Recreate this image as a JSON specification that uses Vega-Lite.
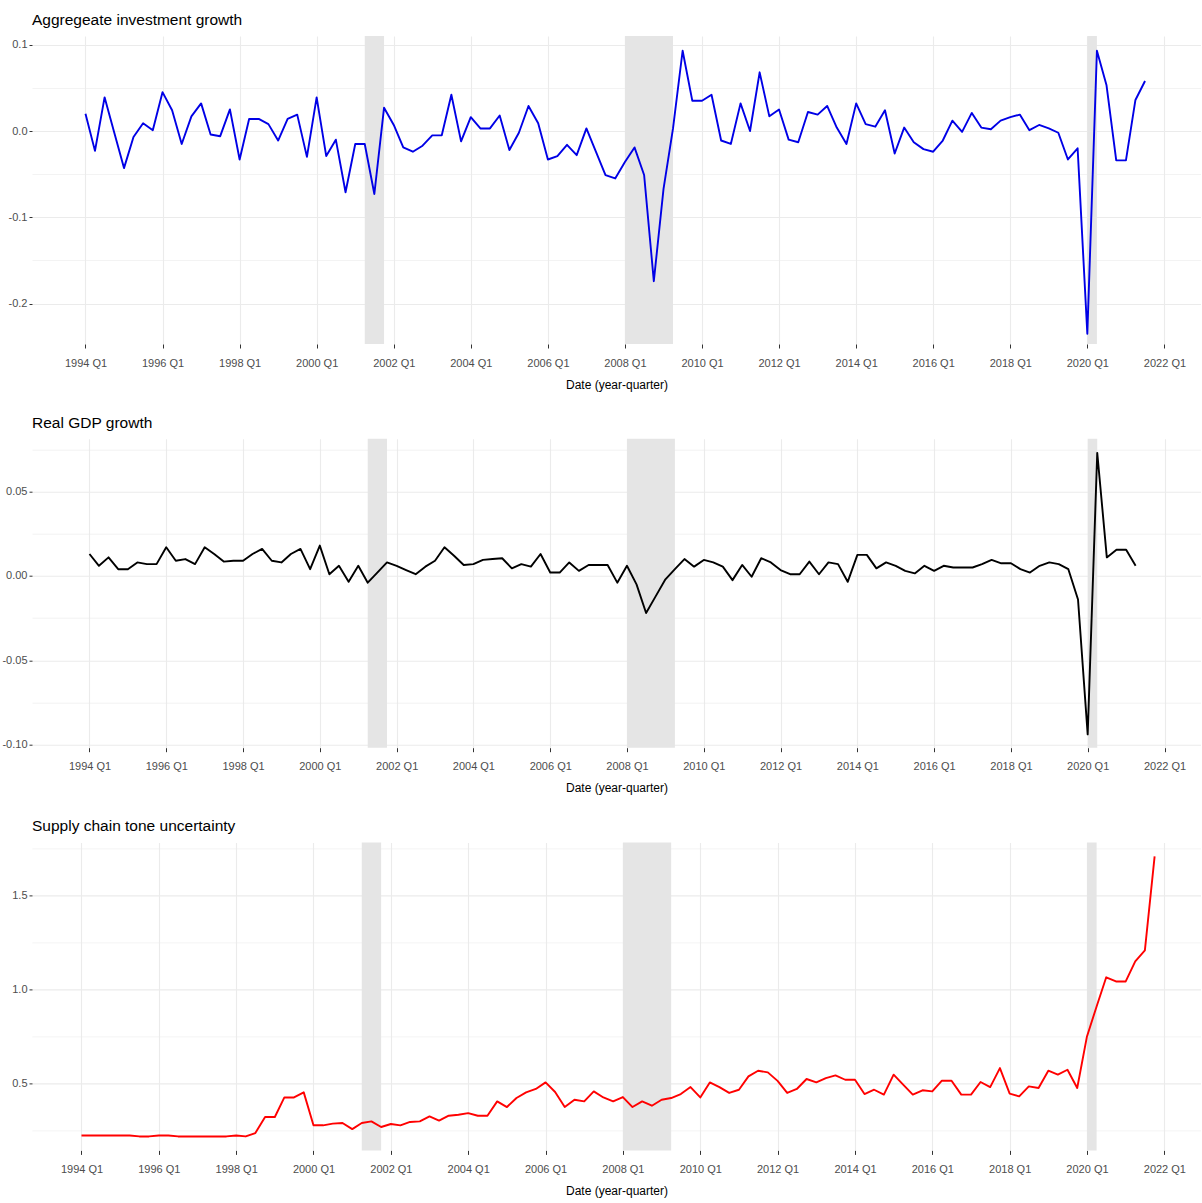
{
  "$schema": "https://vega.github.io/schema/vega-lite/v6.json",
  "background": "white",
  "padding": {"left": 0, "top": 13, "right": 0, "bottom": 6},
  "spacing": 25.7,
  "config": {
    "font": "Liberation Sans, Arial, sans-serif",
    "view": {"stroke": null},
    "axis": {
      "domain": false,
      "gridColor": "#EBEBEB",
      "tickColor": "#333333",
      "tickWidth": 1,
      "labelColor": "#4D4D4D",
      "labelFont": "Liberation Sans, Arial, sans-serif",
      "labelFontSize": 11,
      "titleFont": "Liberation Sans, Arial, sans-serif",
      "titleFontSize": 12,
      "titleFontWeight": "normal",
      "titleColor": "#000000"
    },
    "axisX": {"tickSize": 4, "labelPadding": 9, "titlePadding": 11, "gridWidth": 1.1, "labelFlush": false, "labelOverlap": false},
    "axisY": {"tickSize": 3, "labelPadding": 2, "minExtent": 31.8, "maxExtent": 31.8},
    "title": {
      "font": "Liberation Sans, Arial, sans-serif",
      "fontSize": 15.5,
      "fontWeight": "normal",
      "color": "#000000",
      "anchor": "start",
      "frame": "group",
      "baseline": "alphabetic",
      "offset": 7.5
    },
    "line": {"strokeWidth": 1.9, "strokeJoin": "round"},
    "rect": {"color": "#E5E5E5"}
  },
  "datasets": {
    "recessions": [
      {"start": "2001-04-01", "end": "2001-10-01"},
      {"start": "2008-01-01", "end": "2009-04-01"},
      {"start": "2020-01-01", "end": "2020-04-01"}
    ],
    "investment": [
      {"date": "1994-01-01", "value": 0.020}, {"date": "1994-04-01", "value": -0.023}, {"date": "1994-07-01", "value": 0.039}, {"date": "1994-10-01", "value": -0.002},
      {"date": "1995-01-01", "value": -0.043}, {"date": "1995-04-01", "value": -0.007}, {"date": "1995-07-01", "value": 0.009}, {"date": "1995-10-01", "value": 0.001},
      {"date": "1996-01-01", "value": 0.045}, {"date": "1996-04-01", "value": 0.024}, {"date": "1996-07-01", "value": -0.015}, {"date": "1996-10-01", "value": 0.017},
      {"date": "1997-01-01", "value": 0.032}, {"date": "1997-04-01", "value": -0.004}, {"date": "1997-07-01", "value": -0.006}, {"date": "1997-10-01", "value": 0.025},
      {"date": "1998-01-01", "value": -0.033}, {"date": "1998-04-01", "value": 0.014}, {"date": "1998-07-01", "value": 0.014}, {"date": "1998-10-01", "value": 0.008},
      {"date": "1999-01-01", "value": -0.011}, {"date": "1999-04-01", "value": 0.014}, {"date": "1999-07-01", "value": 0.019}, {"date": "1999-10-01", "value": -0.030},
      {"date": "2000-01-01", "value": 0.039}, {"date": "2000-04-01", "value": -0.029}, {"date": "2000-07-01", "value": -0.010}, {"date": "2000-10-01", "value": -0.071},
      {"date": "2001-01-01", "value": -0.015}, {"date": "2001-04-01", "value": -0.015}, {"date": "2001-07-01", "value": -0.073}, {"date": "2001-10-01", "value": 0.027},
      {"date": "2002-01-01", "value": 0.007}, {"date": "2002-04-01", "value": -0.019}, {"date": "2002-07-01", "value": -0.024}, {"date": "2002-10-01", "value": -0.017},
      {"date": "2003-01-01", "value": -0.005}, {"date": "2003-04-01", "value": -0.005}, {"date": "2003-07-01", "value": 0.042}, {"date": "2003-10-01", "value": -0.012},
      {"date": "2004-01-01", "value": 0.016}, {"date": "2004-04-01", "value": 0.003}, {"date": "2004-07-01", "value": 0.003}, {"date": "2004-10-01", "value": 0.018},
      {"date": "2005-01-01", "value": -0.022}, {"date": "2005-04-01", "value": -0.002}, {"date": "2005-07-01", "value": 0.029}, {"date": "2005-10-01", "value": 0.009},
      {"date": "2006-01-01", "value": -0.033}, {"date": "2006-04-01", "value": -0.029}, {"date": "2006-07-01", "value": -0.016}, {"date": "2006-10-01", "value": -0.028},
      {"date": "2007-01-01", "value": 0.003}, {"date": "2007-04-01", "value": -0.024}, {"date": "2007-07-01", "value": -0.051}, {"date": "2007-10-01", "value": -0.055},
      {"date": "2008-01-01", "value": -0.036}, {"date": "2008-04-01", "value": -0.019}, {"date": "2008-07-01", "value": -0.051}, {"date": "2008-10-01", "value": -0.174},
      {"date": "2009-01-01", "value": -0.067}, {"date": "2009-04-01", "value": 0.003}, {"date": "2009-07-01", "value": 0.093}, {"date": "2009-10-01", "value": 0.035},
      {"date": "2010-01-01", "value": 0.035}, {"date": "2010-04-01", "value": 0.042}, {"date": "2010-07-01", "value": -0.011}, {"date": "2010-10-01", "value": -0.015},
      {"date": "2011-01-01", "value": 0.032}, {"date": "2011-04-01", "value": 0.000}, {"date": "2011-07-01", "value": 0.068}, {"date": "2011-10-01", "value": 0.017},
      {"date": "2012-01-01", "value": 0.025}, {"date": "2012-04-01", "value": -0.010}, {"date": "2012-07-01", "value": -0.013}, {"date": "2012-10-01", "value": 0.022},
      {"date": "2013-01-01", "value": 0.019}, {"date": "2013-04-01", "value": 0.029}, {"date": "2013-07-01", "value": 0.004}, {"date": "2013-10-01", "value": -0.015},
      {"date": "2014-01-01", "value": 0.032}, {"date": "2014-04-01", "value": 0.008}, {"date": "2014-07-01", "value": 0.005}, {"date": "2014-10-01", "value": 0.024},
      {"date": "2015-01-01", "value": -0.026}, {"date": "2015-04-01", "value": 0.004}, {"date": "2015-07-01", "value": -0.013}, {"date": "2015-10-01", "value": -0.021},
      {"date": "2016-01-01", "value": -0.024}, {"date": "2016-04-01", "value": -0.011}, {"date": "2016-07-01", "value": 0.012}, {"date": "2016-10-01", "value": -0.001},
      {"date": "2017-01-01", "value": 0.021}, {"date": "2017-04-01", "value": 0.004}, {"date": "2017-07-01", "value": 0.002}, {"date": "2017-10-01", "value": 0.012},
      {"date": "2018-01-01", "value": 0.016}, {"date": "2018-04-01", "value": 0.019}, {"date": "2018-07-01", "value": 0.001}, {"date": "2018-10-01", "value": 0.007},
      {"date": "2019-01-01", "value": 0.003}, {"date": "2019-04-01", "value": -0.002}, {"date": "2019-07-01", "value": -0.033}, {"date": "2019-10-01", "value": -0.020},
      {"date": "2020-01-01", "value": -0.235}, {"date": "2020-04-01", "value": 0.093}, {"date": "2020-07-01", "value": 0.053}, {"date": "2020-10-01", "value": -0.034},
      {"date": "2021-01-01", "value": -0.034}, {"date": "2021-04-01", "value": 0.036}, {"date": "2021-07-01", "value": 0.058}
    ],
    "gdp": [
      {"date": "1994-01-01", "value": 0.013}, {"date": "1994-04-01", "value": 0.006}, {"date": "1994-07-01", "value": 0.011}, {"date": "1994-10-01", "value": 0.004},
      {"date": "1995-01-01", "value": 0.004}, {"date": "1995-04-01", "value": 0.008}, {"date": "1995-07-01", "value": 0.007}, {"date": "1995-10-01", "value": 0.007},
      {"date": "1996-01-01", "value": 0.017}, {"date": "1996-04-01", "value": 0.009}, {"date": "1996-07-01", "value": 0.010}, {"date": "1996-10-01", "value": 0.007},
      {"date": "1997-01-01", "value": 0.017}, {"date": "1997-04-01", "value": 0.013}, {"date": "1997-07-01", "value": 0.0085}, {"date": "1997-10-01", "value": 0.009},
      {"date": "1998-01-01", "value": 0.009}, {"date": "1998-04-01", "value": 0.013}, {"date": "1998-07-01", "value": 0.016}, {"date": "1998-10-01", "value": 0.009},
      {"date": "1999-01-01", "value": 0.008}, {"date": "1999-04-01", "value": 0.013}, {"date": "1999-07-01", "value": 0.016}, {"date": "1999-10-01", "value": 0.004},
      {"date": "2000-01-01", "value": 0.018}, {"date": "2000-04-01", "value": 0.001}, {"date": "2000-07-01", "value": 0.006}, {"date": "2000-10-01", "value": -0.0035},
      {"date": "2001-01-01", "value": 0.006}, {"date": "2001-04-01", "value": -0.004}, {"date": "2001-07-01", "value": 0.002}, {"date": "2001-10-01", "value": 0.008},
      {"date": "2002-01-01", "value": 0.006}, {"date": "2002-04-01", "value": 0.0035}, {"date": "2002-07-01", "value": 0.001}, {"date": "2002-10-01", "value": 0.0055},
      {"date": "2003-01-01", "value": 0.009}, {"date": "2003-04-01", "value": 0.017}, {"date": "2003-07-01", "value": 0.012}, {"date": "2003-10-01", "value": 0.0065},
      {"date": "2004-01-01", "value": 0.007}, {"date": "2004-04-01", "value": 0.0095}, {"date": "2004-07-01", "value": 0.010}, {"date": "2004-10-01", "value": 0.0105},
      {"date": "2005-01-01", "value": 0.0045}, {"date": "2005-04-01", "value": 0.007}, {"date": "2005-07-01", "value": 0.0055}, {"date": "2005-10-01", "value": 0.013},
      {"date": "2006-01-01", "value": 0.002}, {"date": "2006-04-01", "value": 0.002}, {"date": "2006-07-01", "value": 0.008}, {"date": "2006-10-01", "value": 0.003},
      {"date": "2007-01-01", "value": 0.0065}, {"date": "2007-04-01", "value": 0.0065}, {"date": "2007-07-01", "value": 0.0065}, {"date": "2007-10-01", "value": -0.004},
      {"date": "2008-01-01", "value": 0.006}, {"date": "2008-04-01", "value": -0.005}, {"date": "2008-07-01", "value": -0.022}, {"date": "2008-10-01", "value": -0.012},
      {"date": "2009-01-01", "value": -0.002}, {"date": "2009-04-01", "value": 0.004}, {"date": "2009-07-01", "value": 0.010}, {"date": "2009-10-01", "value": 0.0055},
      {"date": "2010-01-01", "value": 0.0095}, {"date": "2010-04-01", "value": 0.008}, {"date": "2010-07-01", "value": 0.0055}, {"date": "2010-10-01", "value": -0.0025},
      {"date": "2011-01-01", "value": 0.0065}, {"date": "2011-04-01", "value": -0.0005}, {"date": "2011-07-01", "value": 0.0105}, {"date": "2011-10-01", "value": 0.008},
      {"date": "2012-01-01", "value": 0.0035}, {"date": "2012-04-01", "value": 0.001}, {"date": "2012-07-01", "value": 0.001}, {"date": "2012-10-01", "value": 0.0085},
      {"date": "2013-01-01", "value": 0.001}, {"date": "2013-04-01", "value": 0.008}, {"date": "2013-07-01", "value": 0.007}, {"date": "2013-10-01", "value": -0.0035},
      {"date": "2014-01-01", "value": 0.0125}, {"date": "2014-04-01", "value": 0.0125}, {"date": "2014-07-01", "value": 0.0045}, {"date": "2014-10-01", "value": 0.008},
      {"date": "2015-01-01", "value": 0.006}, {"date": "2015-04-01", "value": 0.003}, {"date": "2015-07-01", "value": 0.0015}, {"date": "2015-10-01", "value": 0.006},
      {"date": "2016-01-01", "value": 0.003}, {"date": "2016-04-01", "value": 0.006}, {"date": "2016-07-01", "value": 0.005}, {"date": "2016-10-01", "value": 0.005},
      {"date": "2017-01-01", "value": 0.005}, {"date": "2017-04-01", "value": 0.007}, {"date": "2017-07-01", "value": 0.0095}, {"date": "2017-10-01", "value": 0.0075},
      {"date": "2018-01-01", "value": 0.0075}, {"date": "2018-04-01", "value": 0.004}, {"date": "2018-07-01", "value": 0.002}, {"date": "2018-10-01", "value": 0.006},
      {"date": "2019-01-01", "value": 0.008}, {"date": "2019-04-01", "value": 0.007}, {"date": "2019-07-01", "value": 0.004}, {"date": "2019-10-01", "value": -0.014},
      {"date": "2020-01-01", "value": -0.094}, {"date": "2020-04-01", "value": 0.073}, {"date": "2020-07-01", "value": 0.011}, {"date": "2020-10-01", "value": 0.0155},
      {"date": "2021-01-01", "value": 0.0155}, {"date": "2021-04-01", "value": 0.006}
    ],
    "tone": [
      {"date": "1994-01-01", "value": 0.225}, {"date": "1994-04-01", "value": 0.225}, {"date": "1994-07-01", "value": 0.225}, {"date": "1994-10-01", "value": 0.225},
      {"date": "1995-01-01", "value": 0.225}, {"date": "1995-04-01", "value": 0.225}, {"date": "1995-07-01", "value": 0.220}, {"date": "1995-10-01", "value": 0.220},
      {"date": "1996-01-01", "value": 0.225}, {"date": "1996-04-01", "value": 0.225}, {"date": "1996-07-01", "value": 0.220}, {"date": "1996-10-01", "value": 0.220},
      {"date": "1997-01-01", "value": 0.220}, {"date": "1997-04-01", "value": 0.220}, {"date": "1997-07-01", "value": 0.220}, {"date": "1997-10-01", "value": 0.220},
      {"date": "1998-01-01", "value": 0.225}, {"date": "1998-04-01", "value": 0.220}, {"date": "1998-07-01", "value": 0.238}, {"date": "1998-10-01", "value": 0.323},
      {"date": "1999-01-01", "value": 0.323}, {"date": "1999-04-01", "value": 0.427}, {"date": "1999-07-01", "value": 0.427}, {"date": "1999-10-01", "value": 0.454},
      {"date": "2000-01-01", "value": 0.279}, {"date": "2000-04-01", "value": 0.279}, {"date": "2000-07-01", "value": 0.288}, {"date": "2000-10-01", "value": 0.291},
      {"date": "2001-01-01", "value": 0.259}, {"date": "2001-04-01", "value": 0.291}, {"date": "2001-07-01", "value": 0.300}, {"date": "2001-10-01", "value": 0.270},
      {"date": "2002-01-01", "value": 0.286}, {"date": "2002-04-01", "value": 0.279}, {"date": "2002-07-01", "value": 0.297}, {"date": "2002-10-01", "value": 0.300},
      {"date": "2003-01-01", "value": 0.326}, {"date": "2003-04-01", "value": 0.304}, {"date": "2003-07-01", "value": 0.330}, {"date": "2003-10-01", "value": 0.335},
      {"date": "2004-01-01", "value": 0.344}, {"date": "2004-04-01", "value": 0.330}, {"date": "2004-07-01", "value": 0.330}, {"date": "2004-10-01", "value": 0.406},
      {"date": "2005-01-01", "value": 0.376}, {"date": "2005-04-01", "value": 0.424}, {"date": "2005-07-01", "value": 0.454}, {"date": "2005-10-01", "value": 0.472},
      {"date": "2006-01-01", "value": 0.507}, {"date": "2006-04-01", "value": 0.456}, {"date": "2006-07-01", "value": 0.376}, {"date": "2006-10-01", "value": 0.415},
      {"date": "2007-01-01", "value": 0.406}, {"date": "2007-04-01", "value": 0.459}, {"date": "2007-07-01", "value": 0.427}, {"date": "2007-10-01", "value": 0.406},
      {"date": "2008-01-01", "value": 0.429}, {"date": "2008-04-01", "value": 0.376}, {"date": "2008-07-01", "value": 0.406}, {"date": "2008-10-01", "value": 0.383},
      {"date": "2009-01-01", "value": 0.415}, {"date": "2009-04-01", "value": 0.424}, {"date": "2009-07-01", "value": 0.445}, {"date": "2009-10-01", "value": 0.482},
      {"date": "2010-01-01", "value": 0.427}, {"date": "2010-04-01", "value": 0.507}, {"date": "2010-07-01", "value": 0.482}, {"date": "2010-10-01", "value": 0.451},
      {"date": "2011-01-01", "value": 0.468}, {"date": "2011-04-01", "value": 0.539}, {"date": "2011-07-01", "value": 0.569}, {"date": "2011-10-01", "value": 0.560},
      {"date": "2012-01-01", "value": 0.515}, {"date": "2012-04-01", "value": 0.451}, {"date": "2012-07-01", "value": 0.472}, {"date": "2012-10-01", "value": 0.525},
      {"date": "2013-01-01", "value": 0.507}, {"date": "2013-04-01", "value": 0.530}, {"date": "2013-07-01", "value": 0.544}, {"date": "2013-10-01", "value": 0.521},
      {"date": "2014-01-01", "value": 0.521}, {"date": "2014-04-01", "value": 0.445}, {"date": "2014-07-01", "value": 0.468}, {"date": "2014-10-01", "value": 0.442},
      {"date": "2015-01-01", "value": 0.548}, {"date": "2015-04-01", "value": 0.495}, {"date": "2015-07-01", "value": 0.442}, {"date": "2015-10-01", "value": 0.465},
      {"date": "2016-01-01", "value": 0.459}, {"date": "2016-04-01", "value": 0.516}, {"date": "2016-07-01", "value": 0.516}, {"date": "2016-10-01", "value": 0.442},
      {"date": "2017-01-01", "value": 0.442}, {"date": "2017-04-01", "value": 0.509}, {"date": "2017-07-01", "value": 0.482}, {"date": "2017-10-01", "value": 0.583},
      {"date": "2018-01-01", "value": 0.447}, {"date": "2018-04-01", "value": 0.433}, {"date": "2018-07-01", "value": 0.486}, {"date": "2018-10-01", "value": 0.477},
      {"date": "2019-01-01", "value": 0.569}, {"date": "2019-04-01", "value": 0.548}, {"date": "2019-07-01", "value": 0.574}, {"date": "2019-10-01", "value": 0.477},
      {"date": "2020-01-01", "value": 0.751}, {"date": "2020-04-01", "value": 0.910}, {"date": "2020-07-01", "value": 1.065}, {"date": "2020-10-01", "value": 1.043},
      {"date": "2021-01-01", "value": 1.043}, {"date": "2021-04-01", "value": 1.150}, {"date": "2021-07-01", "value": 1.208}, {"date": "2021-10-01", "value": 1.707}
    ]
  },
  "vconcat": [
    {
      "title": "Aggregeate investment growth",
      "width": 1169,
      "height": 308,
      "layer": [
        {
          "data": {"name": "recessions"},
          "mark": {"type": "rect"},
          "encoding": {
            "x": {"field": "start", "type": "temporal", "title": "Date (year-quarter)",
                  "scale": {"type": "utc", "domain": [{"year": 1992, "month": 8, "date": 12, "utc": true}, {"year": 2022, "month": 12, "date": 13, "hours": 12, "utc": true}]}},
            "x2": {"field": "end"}
          }
        },
        {
          "data": {"name": "investment"},
          "mark": {"type": "line", "color": "#0000E6"},
          "encoding": {
            "x": {"field": "date", "type": "temporal", "title": "Date (year-quarter)",
                  "scale": {"type": "utc", "domain": [{"year": 1992, "month": 8, "date": 12, "utc": true}, {"year": 2022, "month": 12, "date": 13, "hours": 12, "utc": true}]},
                  "axis": {"format": "%Y Q%q", "values": [{"year": 1994, "utc": true}, {"year": 1996, "utc": true}, {"year": 1998, "utc": true}, {"year": 2000, "utc": true}, {"year": 2002, "utc": true}, {"year": 2004, "utc": true}, {"year": 2006, "utc": true}, {"year": 2008, "utc": true}, {"year": 2010, "utc": true}, {"year": 2012, "utc": true}, {"year": 2014, "utc": true}, {"year": 2016, "utc": true}, {"year": 2018, "utc": true}, {"year": 2020, "utc": true}, {"year": 2022, "utc": true}]}},
            "y": {"field": "value", "type": "quantitative",
                  "scale": {"domain": [-0.2468, 0.1101], "nice": false, "zero": false},
                  "axis": {
                    "title": null,
                    "values": [-0.2, -0.15, -0.1, -0.05, 0, 0.05, 0.1],
                    "labelExpr": "abs(datum.value*10 - round(datum.value*10)) < 0.001 ? replace(format(datum.value, '.1f'), '\u2212', '-') : ''",
                    "tickOpacity": {"condition": {"test": "abs(datum.value*10 - round(datum.value*10)) < 0.001", "value": 1}, "value": 0},
                    "gridWidth": {"condition": {"test": "abs(datum.value*10 - round(datum.value*10)) < 0.001", "value": 1.1}, "value": 0.6}
                  }}
          }
        }
      ]
    },
    {
      "title": "Real GDP growth",
      "width": 1169,
      "height": 309,
      "layer": [
        {
          "data": {"name": "recessions"},
          "mark": {"type": "rect"},
          "encoding": {
            "x": {"field": "start", "type": "temporal", "title": "Date (year-quarter)",
                  "scale": {"type": "utc", "domain": [{"year": 1992, "month": 7, "date": 3, "utc": true}, {"year": 2022, "month": 12, "date": 14, "utc": true}]}},
            "x2": {"field": "end"}
          }
        },
        {
          "data": {"name": "gdp"},
          "mark": {"type": "line", "color": "#000000"},
          "encoding": {
            "x": {"field": "date", "type": "temporal", "title": "Date (year-quarter)",
                  "scale": {"type": "utc", "domain": [{"year": 1992, "month": 7, "date": 3, "utc": true}, {"year": 2022, "month": 12, "date": 14, "utc": true}]},
                  "axis": {"format": "%Y Q%q", "values": [{"year": 1994, "utc": true}, {"year": 1996, "utc": true}, {"year": 1998, "utc": true}, {"year": 2000, "utc": true}, {"year": 2002, "utc": true}, {"year": 2004, "utc": true}, {"year": 2006, "utc": true}, {"year": 2008, "utc": true}, {"year": 2010, "utc": true}, {"year": 2012, "utc": true}, {"year": 2014, "utc": true}, {"year": 2016, "utc": true}, {"year": 2018, "utc": true}, {"year": 2020, "utc": true}, {"year": 2022, "utc": true}]}},
            "y": {"field": "value", "type": "quantitative",
                  "scale": {"domain": [-0.1019, 0.0814], "nice": false, "zero": false},
                  "axis": {
                    "title": null,
                    "values": [-0.1, -0.075, -0.05, -0.025, 0, 0.025, 0.05, 0.075],
                    "labelExpr": "abs(datum.value*20 - round(datum.value*20)) < 0.001 ? replace(format(datum.value, '.2f'), '\u2212', '-') : ''",
                    "tickOpacity": {"condition": {"test": "abs(datum.value*20 - round(datum.value*20)) < 0.001", "value": 1}, "value": 0},
                    "gridWidth": {"condition": {"test": "abs(datum.value*20 - round(datum.value*20)) < 0.001", "value": 1.1}, "value": 0.6}
                  }}
          }
        }
      ]
    },
    {
      "title": "Supply chain tone uncertainty",
      "width": 1169,
      "height": 308,
      "layer": [
        {
          "data": {"name": "recessions"},
          "mark": {"type": "rect"},
          "encoding": {
            "x": {"field": "start", "type": "temporal", "title": "Date (year-quarter)",
                  "scale": {"type": "utc", "domain": [{"year": 1992, "month": 9, "date": 20, "hours": 14, "utc": true}, {"year": 2022, "month": 12, "date": 13, "utc": true}]}},
            "x2": {"field": "end"}
          }
        },
        {
          "data": {"name": "tone"},
          "mark": {"type": "line", "color": "#FF0000"},
          "encoding": {
            "x": {"field": "date", "type": "temporal", "title": "Date (year-quarter)",
                  "scale": {"type": "utc", "domain": [{"year": 1992, "month": 9, "date": 20, "hours": 14, "utc": true}, {"year": 2022, "month": 12, "date": 13, "utc": true}]},
                  "axis": {"format": "%Y Q%q", "values": [{"year": 1994, "utc": true}, {"year": 1996, "utc": true}, {"year": 1998, "utc": true}, {"year": 2000, "utc": true}, {"year": 2002, "utc": true}, {"year": 2004, "utc": true}, {"year": 2006, "utc": true}, {"year": 2008, "utc": true}, {"year": 2010, "utc": true}, {"year": 2012, "utc": true}, {"year": 2014, "utc": true}, {"year": 2016, "utc": true}, {"year": 2018, "utc": true}, {"year": 2020, "utc": true}, {"year": 2022, "utc": true}]}},
            "y": {"field": "value", "type": "quantitative",
                  "scale": {"domain": [0.1458, 1.7815], "nice": false, "zero": false},
                  "axis": {
                    "title": null,
                    "values": [0.25, 0.5, 0.75, 1, 1.25, 1.5, 1.75],
                    "labelExpr": "abs(datum.value*2 - round(datum.value*2)) < 0.001 ? format(datum.value, '.1f') : ''",
                    "tickOpacity": {"condition": {"test": "abs(datum.value*2 - round(datum.value*2)) < 0.001", "value": 1}, "value": 0},
                    "gridWidth": {"condition": {"test": "abs(datum.value*2 - round(datum.value*2)) < 0.001", "value": 1.1}, "value": 0.6}
                  }}
          }
        }
      ]
    }
  ]
}
